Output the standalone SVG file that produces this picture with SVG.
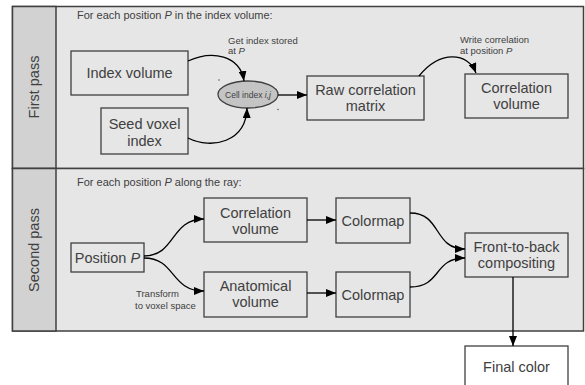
<svg xmlns="http://www.w3.org/2000/svg" width="585" height="385" viewBox="0 0 585 385">
<defs>
<marker id="ah" viewBox="0 0 10 8" refX="10" refY="4" markerWidth="10" markerHeight="8" markerUnits="userSpaceOnUse" orient="auto">
<path d="M0,0 L10,4 L0,8 Z" fill="#000"/>
</marker>
<style>
.panel{fill:#e6e6e6;stroke:#404040;stroke-width:1.5}
.lab{fill:#d2d2d2;stroke:#404040;stroke-width:1.5}
.box{fill:#e6e6e6;stroke:#404040;stroke-width:1.3}
.t{font-family:"Liberation Sans",Arial,sans-serif;fill:#404040;text-anchor:middle}
.big{font-size:14.5px}
.hdr{font-family:"Liberation Sans",Arial,sans-serif;fill:#404040;font-size:11px}
.ann{font-family:"Liberation Sans",Arial,sans-serif;fill:#404040;font-size:9.5px}
.conn path{fill:none;stroke:#000;stroke-width:1.3;marker-end:url(#ah)}
</style>
</defs>

<g id="first-pass">
<rect class="panel" x="12.5" y="6.5" width="571" height="162"/>
<rect class="lab" x="12.5" y="6.5" width="43.5" height="162"/>
<text class="t big" transform="translate(39,87) rotate(-90)">First pass</text>
<text class="hdr" x="77" y="19">For each position <tspan font-style="italic">P</tspan> in the index volume:</text>
</g>

<g id="second-pass">
<rect class="panel" x="12.5" y="168.5" width="571" height="162.5"/>
<rect class="lab" x="12.5" y="168.5" width="43.5" height="162.5"/>
<text class="t big" transform="translate(39,250) rotate(-90)">Second pass</text>
<text class="hdr" x="77" y="186">For each position <tspan font-style="italic">P</tspan> along the ray:</text>
</g>

<g id="index-volume">
<rect class="box" x="71" y="51" width="117" height="44"/>
<text class="t big" x="129.5" y="78">Index volume</text>
</g>

<g id="seed-voxel-index">
<rect class="box" x="101" y="108" width="87" height="46"/>
<text class="t big" x="144.5" y="129">Seed voxel</text>
<text class="t big" x="144.5" y="146">index</text>
</g>

<g id="cell-index">
<ellipse cx="248" cy="94.5" rx="30" ry="13.5" fill="#c4c4c4" stroke="#404040" stroke-width="1.3"/>
<text class="t" x="248" y="98" font-size="8.5">Cell index <tspan font-style="italic">i,j</tspan></text>
<circle cx="219" cy="80" r="0.7" fill="#404040"/>
<circle cx="278" cy="109.5" r="0.7" fill="#404040"/>
</g>

<g id="raw-correlation-matrix">
<rect class="box" x="307" y="76" width="117" height="44"/>
<text class="t big" x="365.5" y="95">Raw correlation</text>
<text class="t big" x="365.5" y="111">matrix</text>
</g>

<g id="correlation-volume-1">
<rect class="box" x="465" y="74" width="103" height="44"/>
<text class="t big" x="516.5" y="93">Correlation</text>
<text class="t big" x="516.5" y="109">volume</text>
</g>

<g id="position-p">
<rect class="box" x="71" y="243" width="73" height="29"/>
<text class="t big" x="107.5" y="263">Position <tspan font-style="italic">P</tspan></text>
</g>

<g id="correlation-volume-2">
<rect class="box" x="204" y="198" width="103" height="44"/>
<text class="t big" x="255.5" y="218">Correlation</text>
<text class="t big" x="255.5" y="234">volume</text>
</g>

<g id="anatomical-volume">
<rect class="box" x="204" y="272" width="103" height="45"/>
<text class="t big" x="255.5" y="291">Anatomical</text>
<text class="t big" x="255.5" y="307">volume</text>
</g>

<g id="colormap-1">
<rect class="box" x="336" y="198" width="74" height="45"/>
<text class="t big" x="373" y="226">Colormap</text>
</g>

<g id="colormap-2">
<rect class="box" x="336" y="272" width="74" height="45"/>
<text class="t big" x="373" y="300">Colormap</text>
</g>

<g id="compositing">
<rect class="box" x="465" y="233" width="103" height="44"/>
<text class="t big" x="516.5" y="252">Front-to-back</text>
<text class="t big" x="516.5" y="268">compositing</text>
</g>

<g id="final-color">
<rect x="465" y="346" width="103" height="50" fill="#ffffff" stroke="#404040" stroke-width="1.3"/>
<text class="t big" x="516.5" y="372">Final color</text>
</g>

<g id="connectors" class="conn">
<path d="M188,61 C212,50 240,55 244,81"/>
<path d="M188,138 C212,150 246,142 247,108"/>
<path d="M278,95 L307,95"/>
<path d="M419,76 C440,50 468,52 476,73"/>
<path d="M144,256 C176,256 170,219 204,219"/>
<path d="M144,258 C176,258 170,291 204,291"/>
<path d="M307,220 L336,220"/>
<path d="M307,293 L336,293"/>
<path d="M410,213 C442,213 433,249 465,249"/>
<path d="M410,287 C442,287 433,258 465,258"/>
<path d="M513,277 L513,346"/>
</g>

<g id="annotations">
<text class="ann" x="228" y="44">Get index stored</text>
<text class="ann" x="228" y="54">at <tspan font-style="italic">P</tspan></text>
<text class="ann" x="460" y="43">Write correlation</text>
<text class="ann" x="460" y="54">at position <tspan font-style="italic">P</tspan></text>
<text class="ann" x="136" y="297">Transform</text>
<text class="ann" x="135" y="309">to voxel space</text>
</g>
</svg>
